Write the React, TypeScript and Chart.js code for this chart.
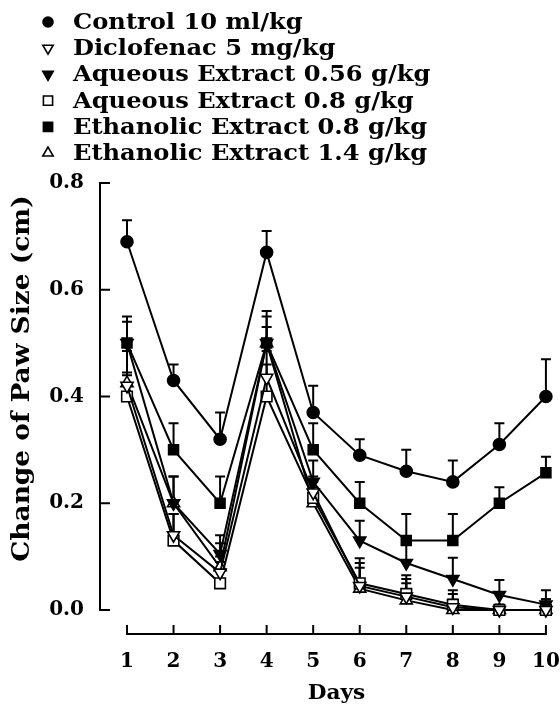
import React, { useEffect, useRef } from 'react';
import { Chart, registerables } from 'chart.js';

Chart.register(...registerables);

// ---- data ----
const days = [1, 2, 3, 4, 5, 6, 7, 8, 9, 10];
const yTickValues = [0, 0.2, 0.4, 0.6, 0.8];
const xTitle = 'Days';
const yTitle = 'Change of Paw Size (cm)';

const seriesLabels = [
  'Control 10 ml/kg',
  'Diclofenac 5 mg/kg',
  'Aqueous Extract 0.56 g/kg',
  'Aqueous Extract 0.8 g/kg',
  'Ethanolic Extract 0.8 g/kg',
  'Ethanolic Extract 1.4 g/kg',
];

const control = [0.69, 0.43, 0.32, 0.67, 0.37, 0.29, 0.26, 0.24, 0.31, 0.40];
const controlErr = [0.04, 0.03, 0.05, 0.04, 0.05, 0.03, 0.04, 0.04, 0.04, 0.07];

const diclofenac = [0.42, 0.14, 0.07, 0.435, 0.22, 0.045, 0.025, 0.005, 0.0, 0.0];
const diclofenacErr = [0.065, 0.04, 0.03, 0.05, 0.03, 0.043, 0.033, 0.025, 0.01, 0.015];

const aqueous056 = [0.50, 0.20, 0.105, 0.50, 0.24, 0.13, 0.088, 0.058, 0.028, 0.01];
const aqueous056Err = [0.04, 0.05, 0.035, 0.05, 0.04, 0.037, 0.037, 0.04, 0.028, 0.027];

const aqueous08 = [0.40, 0.13, 0.05, 0.40, 0.21, 0.05, 0.03, 0.01, 0.0, 0.0];
const aqueous08Err = [0.04, 0.05, 0.04, 0.06, 0.03, 0.047, 0.035, 0.027, 0.01, 0.02];

const ethanolic08 = [0.50, 0.30, 0.20, 0.50, 0.30, 0.20, 0.13, 0.13, 0.20, 0.257];
const ethanolic08Err = [0.05, 0.05, 0.05, 0.06, 0.05, 0.04, 0.05, 0.05, 0.03, 0.03];

const ethanolic14 = [0.425, 0.20, 0.08, 0.50, 0.20, 0.04, 0.018, 0.0, 0.0, 0.0];
const ethanolic14Err = [0.02, 0.05, 0.045, 0.03, 0.03, 0.039, 0.032, 0.019, 0.01, 0.02];

const FONT = 'DejaVu Serif';

type Marker = { style: string; rotation: number; filled: boolean; radius: number; legendRadius: number };
const markers: Marker[] = [
  { style: 'circle', rotation: 0, filled: true, radius: 6, legendRadius: 5 },
  { style: 'triangle', rotation: 180, filled: false, radius: 7, legendRadius: 6 },
  { style: 'triangle', rotation: 180, filled: true, radius: 7, legendRadius: 6 },
  { style: 'rect', rotation: 0, filled: false, radius: 7.5, legendRadius: 6.5 },
  { style: 'rect', rotation: 0, filled: true, radius: 7, legendRadius: 6.5 },
  { style: 'triangle', rotation: 0, filled: false, radius: 7, legendRadius: 6 },
];

const seriesValues = [control, diclofenac, aqueous056, aqueous08, ethanolic08, ethanolic14];
const seriesErrors = [controlErr, diclofenacErr, aqueous056Err, aqueous08Err, ethanolic08Err, ethanolic14Err];

function drawMarker(ctx: CanvasRenderingContext2D, m: Marker, x: number, y: number, r: number) {
  ctx.save();
  ctx.beginPath();
  if (m.style === 'circle') {
    ctx.arc(x, y, r, 0, Math.PI * 2);
  } else if (m.style === 'rect') {
    const s = r * Math.SQRT1_2;
    ctx.rect(x - s, y - s, 2 * s, 2 * s);
  } else {
    const dir = m.rotation === 180 ? 1 : -1;
    const h = r;
    const w = r * Math.sqrt(3) / 2;
    ctx.moveTo(x, y + dir * h);
    ctx.lineTo(x - w, y - dir * h / 2);
    ctx.lineTo(x + w, y - dir * h / 2);
    ctx.closePath();
  }
  ctx.fillStyle = m.filled ? '#000' : '#fff';
  ctx.fill();
  ctx.lineWidth = 1.6;
  ctx.strokeStyle = '#000';
  ctx.stroke();
  ctx.restore();
}

const errorBarPlugin = {
  id: 'errorBars',
  beforeDatasetsDraw(chart: any) {
    const ctx = chart.ctx as CanvasRenderingContext2D;
    const xs = chart.scales.x;
    const ys = chart.scales.y;
    ctx.save();
    ctx.strokeStyle = '#000';
    ctx.lineWidth = 2;
    seriesValues.forEach((vals, si) => {
      const errs = seriesErrors[si];
      vals.forEach((v, i) => {
        const x = xs.getPixelForValue(days[i]);
        const y0 = ys.getPixelForValue(v);
        const y1 = ys.getPixelForValue(v + errs[i]);
        ctx.beginPath();
        ctx.moveTo(x, y0);
        ctx.lineTo(x, y1);
        ctx.moveTo(x - 5, y1);
        ctx.lineTo(x + 5, y1);
        ctx.stroke();
      });
    });
    ctx.restore();
  },
};

const axesPlugin = {
  id: 'customAxes',
  afterDraw(chart: any) {
    const ctx = chart.ctx as CanvasRenderingContext2D;
    const xs = chart.scales.x;
    const ys = chart.scales.y;
    const area = chart.chartArea;
    ctx.save();
    ctx.strokeStyle = '#000';
    ctx.lineWidth = 2;
    ctx.lineCap = 'square';
    const ax = area.left;
    const yTop = ys.getPixelForValue(yTickValues[yTickValues.length - 1]);
    const yBot = ys.getPixelForValue(yTickValues[0]);
    ctx.beginPath();
    ctx.moveTo(ax, yTop);
    ctx.lineTo(ax, yBot);
    yTickValues.forEach((v) => {
      const y = ys.getPixelForValue(v);
      ctx.moveTo(ax, y);
      ctx.lineTo(ax + 9, y);
    });
    ctx.stroke();
    const ay = area.bottom;
    const xL = xs.getPixelForValue(days[0]);
    const xR = xs.getPixelForValue(days[days.length - 1]);
    ctx.beginPath();
    ctx.moveTo(xL, ay);
    ctx.lineTo(xR, ay);
    days.forEach((d) => {
      const x = xs.getPixelForValue(d);
      ctx.moveTo(x, ay);
      ctx.lineTo(x, ay - 8);
    });
    ctx.stroke();

    // axis titles, centred on the drawn axis lines
    ctx.fillStyle = '#000';
    ctx.font = `bold 21px "${FONT}"`;
    ctx.textAlign = 'center';
    ctx.textBaseline = 'alphabetic';
    ctx.save();
    ctx.translate((xL + xR) / 2, 699);
    ctx.scale(1.03, 1);
    ctx.fillText(xTitle, 0, 0);
    ctx.restore();

    ctx.save();
    ctx.translate(23, (yTop + yBot) / 2 - 18);
    ctx.rotate(-Math.PI / 2);
    ctx.scale(1.1, 1);
    ctx.font = `bold 24px "${FONT}"`;
    ctx.textBaseline = 'middle';
    ctx.fillText(yTitle, 0, 0);
    ctx.restore();
    ctx.restore();
  },
};

const legendPlugin = {
  id: 'customLegend',
  afterDraw(chart: any) {
    const ctx = chart.ctx as CanvasRenderingContext2D;
    ctx.save();
    ctx.font = `bold 23px "${FONT}"`;
    ctx.fillStyle = '#000';
    ctx.textAlign = 'left';
    ctx.textBaseline = 'middle';
    seriesLabels.forEach((label, i) => {
      const y = 22 + i * 26.2;
      const m = markers[i];
      drawMarker(ctx, m, 48, y, m.legendRadius);
      ctx.save();
      ctx.translate(73, y + 1);
      ctx.scale(1.05, 1);
      ctx.fillText(label, 0, 0);
      ctx.restore();
    });
    ctx.restore();
  },
};

export default function App() {
  const ref = useRef<HTMLCanvasElement | null>(null);

  useEffect(() => {
    if (!ref.current) return;
    const datasets = seriesLabels.map((label, i) => {
      const m = markers[i];
      return {
        label,
        data: seriesValues[i].map((v, j) => ({ x: days[j], y: v })),
        borderColor: '#000',
        borderWidth: 2,
        backgroundColor: m.filled ? '#000' : '#fff',
        pointStyle: m.style,
        pointRotation: m.rotation,
        pointRadius: m.radius,
        pointBorderWidth: 1.6,
        pointBorderColor: '#000',
        pointBackgroundColor: m.filled ? '#000' : '#fff',
        fill: false,
        tension: 0,
        clip: false as any,
      };
    });

    const chart = new Chart(ref.current, {
      type: 'line',
      data: { datasets },
      plugins: [errorBarPlugin, axesPlugin, legendPlugin],
      options: {
        animation: false,
        responsive: false,
        devicePixelRatio: 1,
        layout: { padding: { top: 183, right: 8, left: 0, bottom: 0 } },
        plugins: { legend: { display: false }, tooltip: { enabled: false } },
        scales: {
          x: {
            type: 'linear',
            min: 0.42,
            max: 10.107,
            grid: { display: false },
            border: { display: false },
            afterBuildTicks: (scale: any) => {
              scale.ticks = days.map((d) => ({ value: d }));
            },
            afterFit: (scale: any) => {
              scale.height = 75;
              scale.paddingLeft = 0;
              scale.paddingRight = 0;
            },
            ticks: {
              color: '#000',
              font: { family: FONT, size: 20, weight: 'bold' },
              padding: 8,
              maxRotation: 0,
              autoSkip: false,
              callback: (v: any) => String(v),
            },
            title: { display: false },
          },
          y: {
            type: 'linear',
            min: -0.045,
            max: 0.8,
            grid: { display: false },
            border: { display: false },
            afterBuildTicks: (scale: any) => {
              scale.ticks = yTickValues.map((v) => ({ value: v }));
            },
            afterFit: (scale: any) => {
              scale.width = 100;
              scale.paddingTop = 0;
              scale.paddingBottom = 0;
            },
            ticks: {
              color: '#000',
              font: { family: FONT, size: 20, weight: 'bold' },
              padding: 8,
              callback: (v: any) => Number(v).toFixed(1),
            },
            title: { display: false },
          },
        },
      } as any,
    });
    return () => chart.destroy();
  }, []);

  return (
    <div style={{ position: 'absolute', left: 0, top: 0, width: 560, height: 709, background: '#fff' }}>
      <canvas ref={ref} width={560} height={709} style={{ width: 560, height: 709 }} />
    </div>
  );
}
